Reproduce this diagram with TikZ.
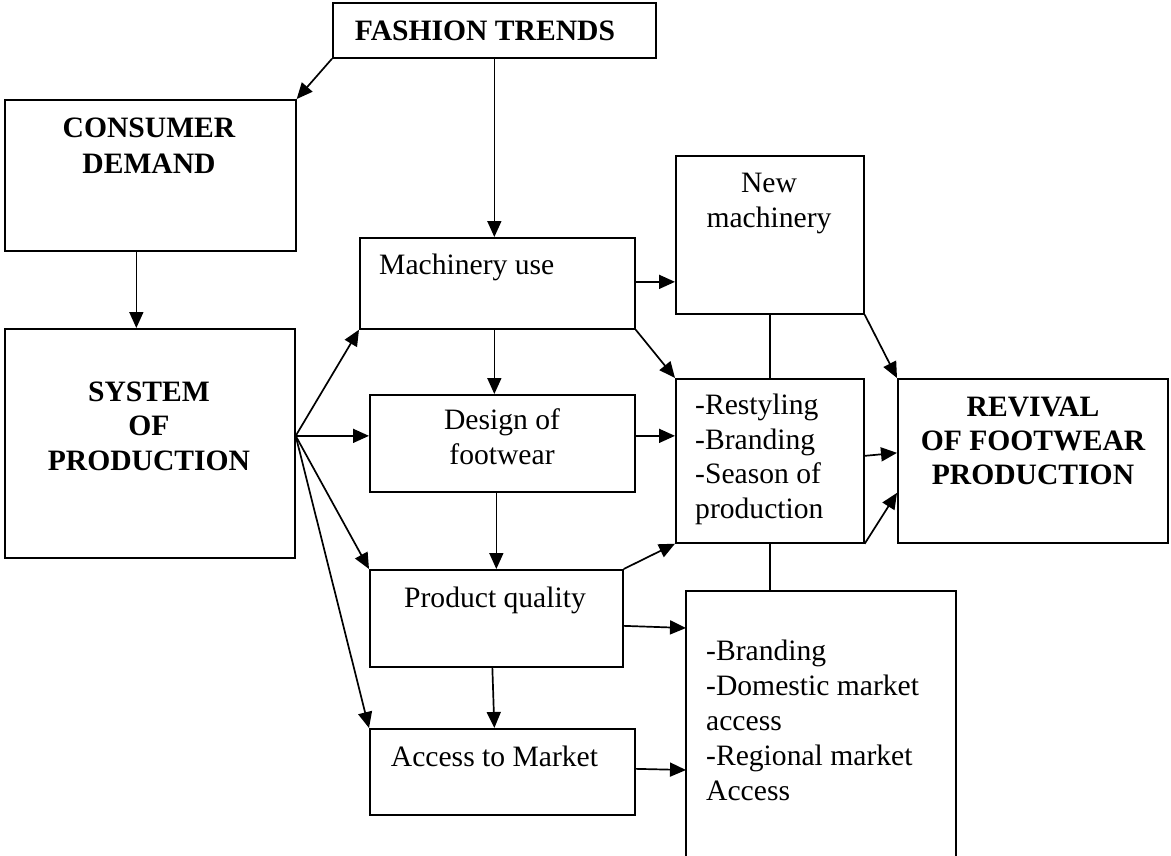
\documentclass[tikz,border=0pt]{standalone}
\usepackage{fontspec}
\setmainfont{Liberation Serif}
\usetikzlibrary{arrows.meta,calc}
\begin{document}
\begin{tikzpicture}[x=1pt,y=-1pt,
  box/.style={draw=black,line width=1.7pt,inner sep=0pt,anchor=north west},
  lbl/.style={inner sep=0pt,font=\fontsize{29.6}{34.5}\selectfont},
  arr/.style={line width=1.7pt,-{Triangle[length=16pt,width=14pt]}},
  ln/.style={line width=1.7pt}]
\useasboundingbox (0,0) rectangle (1171,855);
% boxes
\node[box,minimum width=323,minimum height=55] (fashion) at (332,2) {};
\node[box,minimum width=291,minimum height=151] (consumer) at (4,99) {};
\node[box,minimum width=290,minimum height=229] (system) at (4,328) {};
\node[box,minimum width=275,minimum height=91] (mach) at (359,237) {};
\node[box,minimum width=188,minimum height=158] (newm) at (675,155) {};
\node[box,minimum width=265,minimum height=97] (design) at (369,394) {};
\node[box,minimum width=253,minimum height=97] (pq) at (369,569) {};
\node[box,minimum width=265,minimum height=86] (access) at (369,728) {};
\node[box,minimum width=188,minimum height=164] (rest) at (675,378) {};
\node[box,minimum width=270,minimum height=164] (revival) at (897,378) {};
\node[box,draw=none,minimum width=268,minimum height=270] (brand) at (686,591) {};
\draw[ln] (brand.south west) -- (brand.north west) -- (brand.north east) -- (brand.south east);
% texts (anchor base = last line)
\node[lbl,anchor=base] (tfashion) at (485,40) {\bfseries FASHION TRENDS};
\node[lbl,anchor=base,align=center,font=\fontsize{29.6}{36}\selectfont\bfseries] (tconsumer) at (149,173) {CONSUMER\\DEMAND};
\node[lbl,anchor=base,align=center,font=\fontsize{29.6}{34.5}\selectfont\bfseries] (tsystem) at (149,470) {SYSTEM\\OF\\PRODUCTION};
\node[lbl,anchor=base west] (tmach) at (379,274) {Machinery use};
\node[lbl,anchor=base,align=center] (tnewm) at (769,227) {New\\machinery};
\node[lbl,anchor=base,align=center] (tdesign) at (502,464) {Design of\\footwear};
\node[lbl,anchor=base] (tpq) at (495,607) {Product quality};
\node[lbl,anchor=base] (taccess) at (494.5,766) {Access to Market};
\node[lbl,anchor=base west,align=left] (trest) at (695,518) {-Restyling\\-Branding\\-Season of\\production};
\node[lbl,anchor=base,align=center,font=\fontsize{29.6}{34}\selectfont\bfseries] (trevival) at (1033,484) {REVIVAL\\OF FOOTWEAR\\PRODUCTION};
\node[lbl,anchor=base west,align=left,font=\fontsize{29.6}{35}\selectfont] (tbrand) at (706,800) {-Branding\\-Domestic market\\access\\-Regional market\\Access};
% helper coordinates
\coordinate (fan) at ($(system.east)+(0,-7.5)$);
\coordinate (cd) at ($(consumer.south)+(-14,0)$);
\coordinate (md) at ($(mach.south)+(-3,0)$);
\coordinate (pqs) at ($(pq.south)+(-4,0)$);
\coordinate (acn) at ($(access.north)+(-8,0)$);
\coordinate (me) at ($(mach.east)+(0,-1.5)$);
\coordinate (re1) at ($(rest.east)+(0,-5)$);
\coordinate (rv1) at ($(revival.west)+(0,-8)$);
\coordinate (rv2) at ($(revival.west)+(0,32)$);
\coordinate (pqe) at ($(pq.east)+(0,7.5)$);
\coordinate (bw1) at ($(brand.north west)+(0,37)$);
\coordinate (ace) at ($(access.east)+(0,-3)$);
\coordinate (bw2) at ($(brand.north west)+(0,179)$);
% connectors
\draw[arr] (fashion.south west) -- (consumer.north east);
\draw[arr] (fashion.south) -- (fashion.south |- mach.north);
\draw[arr] (cd) -- (cd |- system.north);
\draw[arr] (fan) -- (mach.south west);
\draw[arr] (fan) -- (fan -| design.west);
\draw[arr] (fan) -- (pq.north west);
\draw[arr] (fan) -- (access.north west);
\draw[arr] (md) -- (md |- design.north);
\draw[arr] (pq.north |- design.south) -- (pq.north);
\draw[arr] (pqs) -- (acn);
\draw[arr] (mach.south east) -- (rest.north west);
\draw[arr] (me) -- (me -| newm.west);
\draw[arr] (fan -| design.east) -- (fan -| rest.west);
\draw[arr] (newm.south east) -- (revival.north west);
\draw[ln] (newm.south) -- (rest.north);
\draw[arr] (re1) -- (rv1);
\draw[arr] (rest.south east) -- (rv2);
\draw[arr] (pq.north east) -- (rest.south west);
\draw[ln] (rest.south) -- (rest.south |- brand.north);
\draw[arr] (pqe) -- (bw1);
\draw[arr] (ace) -- (bw2);
\end{tikzpicture}
\end{document}
